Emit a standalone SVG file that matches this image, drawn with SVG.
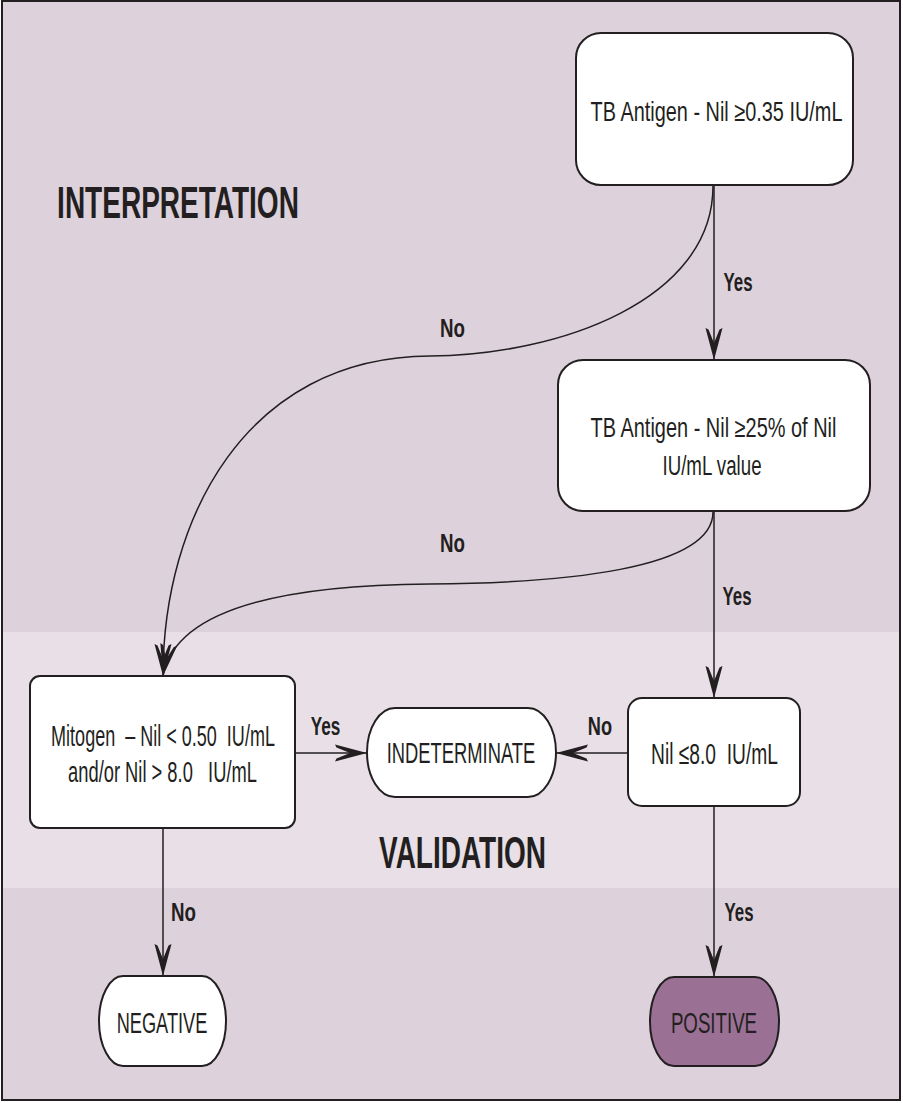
<svg xmlns="http://www.w3.org/2000/svg" width="903" height="1103" viewBox="0 0 903 1103">
<style>
.box{fill:#ffffff;stroke:#231f20;stroke-width:2}
.pos{fill:#9a7194;stroke:#231f20;stroke-width:2}
.t{font-family:"Liberation Sans",Arial,sans-serif;fill:#231f20;text-anchor:middle;white-space:pre}
.n{font-size:27px}
.v{font-size:30px}
.lbl{font-family:"Liberation Sans",Arial,sans-serif;font-weight:bold;font-size:26px;fill:#231f20;text-anchor:middle}
.head{font-family:"Liberation Sans",Arial,sans-serif;font-weight:bold;font-size:45px;fill:#231f20;text-anchor:middle}
.c{fill:none;stroke:#231f20;stroke-width:1.5}
</style>
<defs>
<marker id="ah" viewBox="-34 -10 36 20" refX="0" refY="0" markerWidth="36" markerHeight="20" markerUnits="userSpaceOnUse" orient="auto">
<path d="M0,0 L-32,-8.5 L-30.5,-5.5 L-17,0 L-30.5,5.5 L-32,8.5 Z" fill="#231f20"/>
</marker>
</defs>
<g id="background">
<rect x="2" y="1" width="898" height="631" fill="#ddd2dc"/>
<rect x="2" y="632" width="898" height="256" fill="#e8dfe7"/>
<rect x="2" y="888" width="898" height="212" fill="#ddd2dc"/>
<rect x="2" y="1" width="898" height="1099" fill="none" stroke="#231f20" stroke-width="2"/>
</g>
<g id="section-labels">
<text class="head" transform="translate(178,218) scale(0.623,1)">INTERPRETATION</text>
<text class="head" transform="translate(462.5,868) scale(0.622,1)">VALIDATION</text>
</g>
<g id="connectors">
<path class="c" d="M714,185 L714,360" marker-end="url(#ah)"/>
<path class="c" d="M713,186 C713,300 560,355 430,356 C245,357 163,520 163,676" marker-end="url(#ah)"/>
<path class="c" d="M714,511 L714,698" marker-end="url(#ah)"/>
<path class="c" d="M713,512 C713,570 560,583 430,584 C280,585 175,610 163,676" marker-end="url(#ah)"/>
<path class="c" d="M295,753 L367,753" marker-end="url(#ah)"/>
<path class="c" d="M628,753 L556,753" marker-end="url(#ah)"/>
<path class="c" d="M163,828 L163,976" marker-end="url(#ah)"/>
<path class="c" d="M714,806 L714,977" marker-end="url(#ah)"/>
<text class="lbl" transform="translate(738,291) scale(0.648,1)">Yes</text>
<text class="lbl" transform="translate(452.5,337) scale(0.72,1)">No</text>
<text class="lbl" transform="translate(452.5,552) scale(0.72,1)">No</text>
<text class="lbl" transform="translate(737,605) scale(0.648,1)">Yes</text>
<text class="lbl" transform="translate(325.5,735) scale(0.66,1)">Yes</text>
<text class="lbl" transform="translate(600,735) scale(0.7,1)">No</text>
<text class="lbl" transform="translate(183.5,921) scale(0.72,1)">No</text>
<text class="lbl" transform="translate(739,921) scale(0.648,1)">Yes</text>
</g>
<g id="node-tb-antigen">
<rect class="box" x="576" y="33" width="277" height="152" rx="25" ry="25"/>
<text class="t n" transform="translate(716.5,121) scale(0.737,1)">TB Antigen - Nil ≥0.35 IU/mL</text>
</g>
<g id="node-tb-percent">
<rect class="box" x="558" y="360" width="312" height="151" rx="25" ry="25"/>
<text class="t n" transform="translate(713.5,437) scale(0.739,1)">TB Antigen - Nil ≥25% of Nil</text>
<text class="t n" transform="translate(712,475) scale(0.693,1)">IU/mL value</text>
</g>
<g id="node-mitogen">
<rect class="box" x="30" y="676" width="265" height="152" rx="10" ry="10"/>
<text class="t v" transform="translate(163,746) scale(0.601,1)">Mitogen  – Nil &lt; 0.50  IU/mL</text>
<text class="t v" transform="translate(162.5,782) scale(0.611,1)">and/or Nil &gt; 8.0   IU/mL</text>
</g>
<g id="node-indeterminate">
<rect class="box" x="367" y="708" width="189" height="89" rx="28" ry="44.5"/>
<text class="t v" transform="translate(461,763) scale(0.612,1)">INDETERMINATE</text>
</g>
<g id="node-nil">
<rect class="box" x="628" y="698" width="172" height="108" rx="14" ry="14"/>
<text class="t v" transform="translate(714.5,764) scale(0.641,1)">Nil ≤8.0  IU/mL</text>
</g>
<g id="node-negative">
<rect class="box" x="99" y="976" width="127" height="90" rx="24" ry="45"/>
<text class="t v" transform="translate(162,1033) scale(0.607,1)">NEGATIVE</text>
</g>
<g id="node-positive">
<rect class="pos" x="650" y="977" width="129" height="89" rx="24" ry="44.5"/>
<text class="t v" transform="translate(714,1033) scale(0.623,1)">POSITIVE</text>
</g>
</svg>
